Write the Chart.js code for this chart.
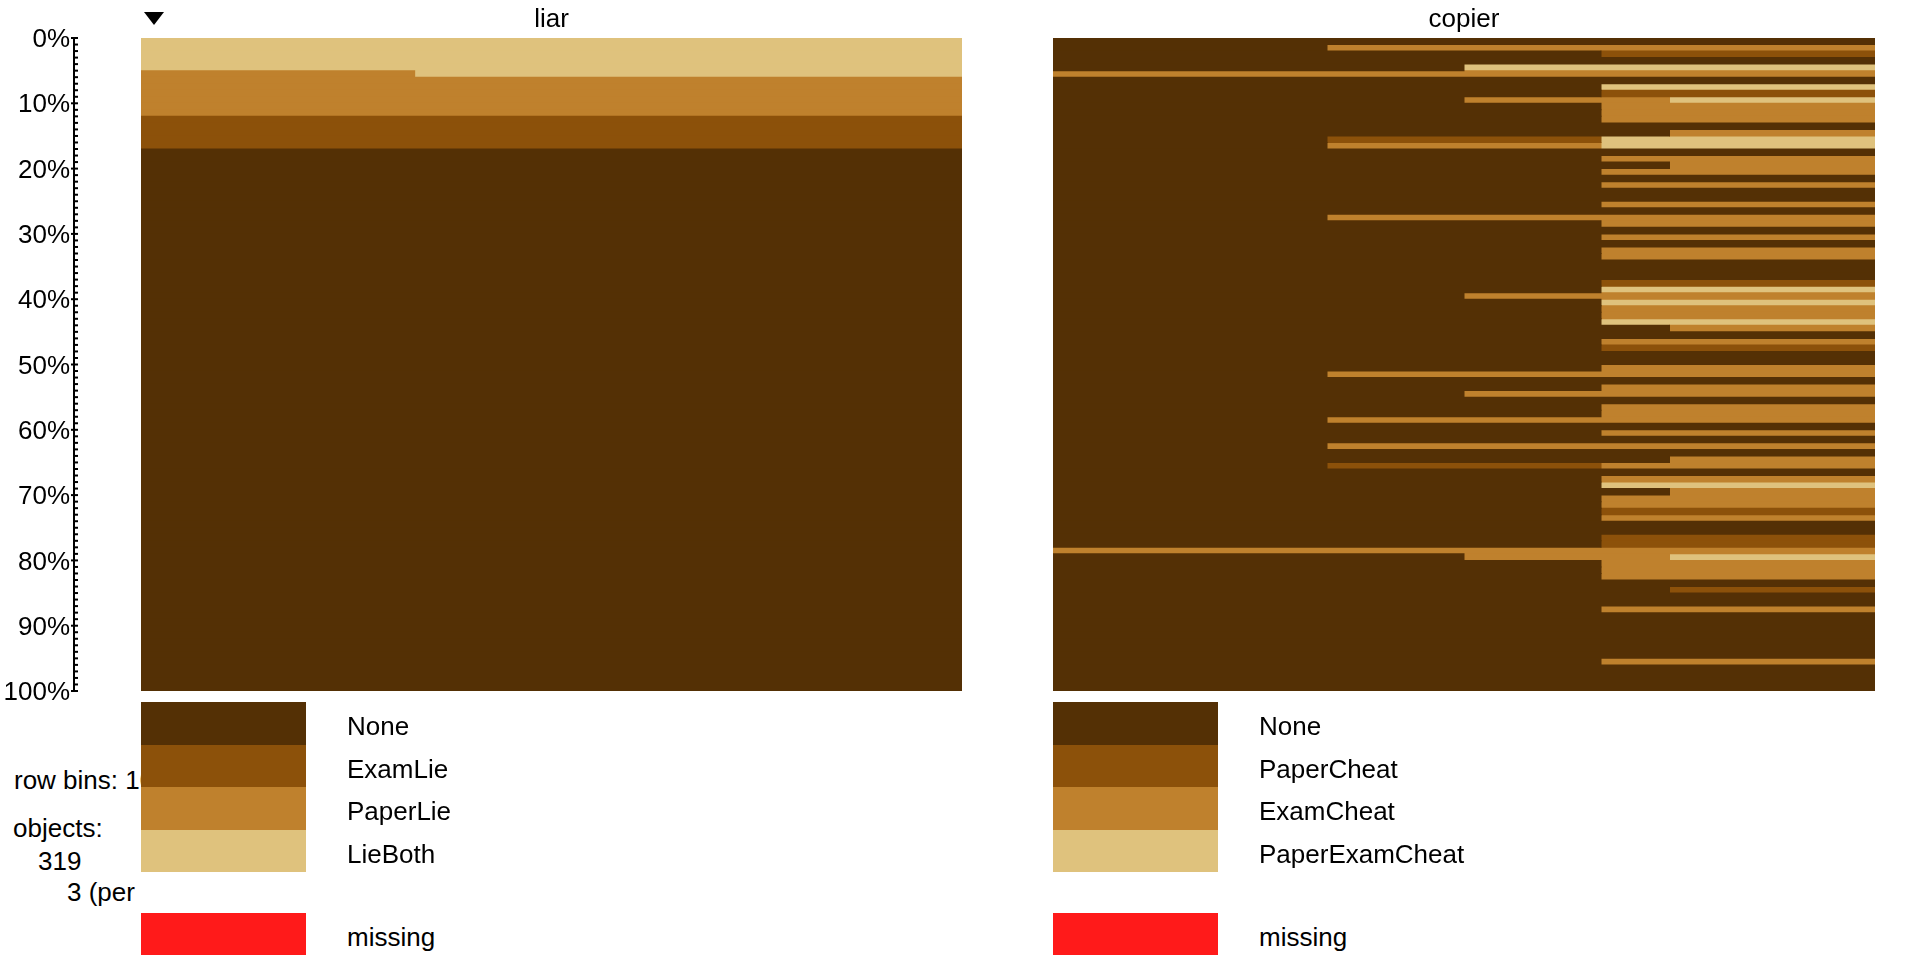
<!DOCTYPE html>
<html>
<head>
<meta charset="utf-8">
<script src="https://cdn.jsdelivr.net/npm/chart.js@4.4.1/dist/chart.umd.min.js"></script>
<style>
  html, body { margin: 0; padding: 0; background: #ffffff; }
  body { width: 1920px; height: 960px; overflow: hidden; position: relative;
         font-family: "Liberation Sans", Arial, sans-serif; color: #000; }
  .abs { position: absolute; }
  canvas { display: block; }
  .hdr { position: absolute; top: 5px; font-size: 26px; line-height: 26px; text-align: center; white-space: nowrap; }
  #infoText { position: absolute; left: 0; top: 740px; width: 141px; height: 200px; overflow: hidden; }
  .info { position: absolute; font-size: 26px; line-height: 26px; white-space: nowrap; }
  .lgbox { position: absolute; z-index: 2; }
  .lgtxt { position: absolute; font-size: 26px; white-space: nowrap; z-index: 2; }
  .tri { position: absolute; left: 144px; top: 12px; width: 0; height: 0;
         border-left: 10.5px solid transparent; border-right: 10.5px solid transparent; border-top: 13px solid #000; }
</style>
</head>
<body>
<div class="abs" style="left:0;top:0;width:100px;height:720px"><canvas id="axisChart" width="100" height="720"></canvas></div>
<div class="abs" style="left:130px;top:0;width:850px;height:720px"><canvas id="liarChart" width="850" height="720"></canvas></div>
<div class="abs" style="left:1040px;top:0;width:860px;height:720px"><canvas id="copierChart" width="860" height="720"></canvas></div>

<div class="tri"></div>
<div class="hdr" style="left:141px;width:821px">liar</div>
<div class="hdr" style="left:1053px;width:822px">copier</div>

<div id="infoText"></div>
<div id="legendLiar"></div>
<div id="legendCopier"></div>

<script>
// ---------------- data ----------------
const pctTicks = ['0%', '10%', '20%', '30%', '40%', '50%', '60%', '70%', '80%', '90%', '100%'];
const binLabels = Array.from({ length: 100 }, (_, i) => i + 1);   // row bins 1..100

const liarCats = ['None', 'ExamLie', 'PaperLie', 'LieBoth'];
const copierCats = ['None', 'PaperCheat', 'ExamCheat', 'PaperExamCheat'];
const palette = ['#543005', '#8C510A', '#BF812D', '#DFC27D'];
const missingColor = '#FF1A1A';

// liar: share of each category per row bin (bins 1..100, top to bottom)
const liarNone = [
  0,0,0,0,0,0,0,0,0,0,
  0,0,0,0,0,0,0,1,1,1,
  1,1,1,1,1,1,1,1,1,1,
  1,1,1,1,1,1,1,1,1,1,
  1,1,1,1,1,1,1,1,1,1,
  1,1,1,1,1,1,1,1,1,1,
  1,1,1,1,1,1,1,1,1,1,
  1,1,1,1,1,1,1,1,1,1,
  1,1,1,1,1,1,1,1,1,1,
  1,1,1,1,1,1,1,1,1,1
];
const liarExamLie = [
  0,0,0,0,0,0,0,0,0,0,
  0,0,1,1,1,1,1,0,0,0,
  0,0,0,0,0,0,0,0,0,0,
  0,0,0,0,0,0,0,0,0,0,
  0,0,0,0,0,0,0,0,0,0,
  0,0,0,0,0,0,0,0,0,0,
  0,0,0,0,0,0,0,0,0,0,
  0,0,0,0,0,0,0,0,0,0,
  0,0,0,0,0,0,0,0,0,0,
  0,0,0,0,0,0,0,0,0,0
];
const liarPaperLie = [
  0,0,0,0,0,1/3,1,1,1,1,
  1,1,0,0,0,0,0,0,0,0,
  0,0,0,0,0,0,0,0,0,0,
  0,0,0,0,0,0,0,0,0,0,
  0,0,0,0,0,0,0,0,0,0,
  0,0,0,0,0,0,0,0,0,0,
  0,0,0,0,0,0,0,0,0,0,
  0,0,0,0,0,0,0,0,0,0,
  0,0,0,0,0,0,0,0,0,0,
  0,0,0,0,0,0,0,0,0,0
];
const liarLieBoth = [
  1,1,1,1,1,2/3,0,0,0,0,
  0,0,0,0,0,0,0,0,0,0,
  0,0,0,0,0,0,0,0,0,0,
  0,0,0,0,0,0,0,0,0,0,
  0,0,0,0,0,0,0,0,0,0,
  0,0,0,0,0,0,0,0,0,0,
  0,0,0,0,0,0,0,0,0,0,
  0,0,0,0,0,0,0,0,0,0,
  0,0,0,0,0,0,0,0,0,0,
  0,0,0,0,0,0,0,0,0,0
];

// copier: share of each category per row bin
const copierNone = [
  1,1/3,2/3,1,1/2,0,1,2/3,2/3,1/2,
  2/3,2/3,2/3,1,3/4,1/3,1/3,1,2/3,3/4,
  2/3,1,2/3,1,1,2/3,1,1/3,2/3,1,
  2/3,1,2/3,2/3,1,1,1,2/3,2/3,1/2,
  2/3,2/3,2/3,2/3,3/4,1,2/3,2/3,1,1,
  2/3,1/3,1,2/3,1/2,1,2/3,2/3,1/3,1,
  2/3,1,1/3,1,3/4,1/3,1,2/3,2/3,3/4,
  2/3,2/3,2/3,2/3,1,1,2/3,2/3,0,1/2,
  2/3,2/3,2/3,1,3/4,1,1,2/3,1,1,
  1,1,1,1,1,2/3,1,1,1,1
];
const copierPaperCheat = [
  0,0,1/3,0,0,0,0,0,1/3,0,
  0,0,0,0,0,1/3,0,0,0,0,
  0,0,0,0,0,0,0,0,0,0,
  0,0,0,0,0,0,0,1/3,0,0,
  0,0,0,0,0,0,0,1/3,0,0,
  0,0,0,0,0,0,0,0,0,0,
  0,0,0,0,0,1/3,0,0,0,0,
  0,0,1/3,0,0,0,1/3,1/3,0,0,
  0,0,0,0,1/4,0,0,0,0,0,
  0,0,0,0,0,0,0,0,0,0
];
const copierExamCheat = [
  0,2/3,0,0,0,1,0,0,0,1/4,
  1/3,1/3,1/3,0,1/4,0,1/3,0,1/3,1/4,
  1/3,0,1/3,0,0,1/3,0,2/3,1/3,0,
  1/3,0,1/3,1/3,0,0,0,0,0,1/2,
  0,1/3,1/3,0,1/4,0,1/3,0,0,0,
  1/3,2/3,0,1/3,1/2,0,1/3,1/3,2/3,0,
  1/3,0,2/3,0,1/4,1/3,0,1/3,0,1/4,
  1/3,1/3,0,1/3,0,0,0,0,1,1/4,
  1/3,1/3,1/3,0,0,0,0,1/3,0,0,
  0,0,0,0,0,1/3,0,0,0,0
];
const copierPaperExamCheat = [
  0,0,0,0,1/2,0,0,1/3,0,1/4,
  0,0,0,0,0,1/3,1/3,0,0,0,
  0,0,0,0,0,0,0,0,0,0,
  0,0,0,0,0,0,0,0,1/3,0,
  1/3,0,0,1/3,0,0,0,0,0,0,
  0,0,0,0,0,0,0,0,0,0,
  0,0,0,0,0,0,0,0,1/3,0,
  0,0,0,0,0,0,0,0,0,1/4,
  0,0,0,0,0,0,0,0,0,0,
  0,0,0,0,0,0,0,0,0,0
];

const infoLines = ['row bins: 100', 'objects:', '319', '3 (per bin)'];

// ---------------- charts ----------------
const FONT = '"Liberation Sans", Arial, sans-serif';

function makeStack(canvasId, cats, series, pad) {
  return new Chart(document.getElementById(canvasId), {
    type: 'bar',
    data: {
      labels: binLabels,
      datasets: cats.map((c, i) => ({
        label: c,
        data: series[i].map(v => (v === 0 ? null : v)),
        backgroundColor: palette[i],
        borderWidth: 0,
        inflateAmount: 0.5,
        categoryPercentage: 1,
        barPercentage: 1
      }))
    },
    options: {
      indexAxis: 'y',
      responsive: false,
      animation: false,
      layout: { padding: pad },
      plugins: { legend: { display: false }, tooltip: { enabled: false }, title: { display: false } },
      scales: {
        x: { stacked: true, min: 0, max: 1, display: false },
        y: { stacked: true, display: false }
      }
    }
  });
}

makeStack('liarChart', liarCats, [liarNone, liarExamLie, liarPaperLie, liarLieBoth],
  { left: 11, right: 18, top: 38, bottom: 29 });
makeStack('copierChart', copierCats, [copierNone, copierPaperCheat, copierExamCheat, copierPaperExamCheat],
  { left: 13, right: 25, top: 38, bottom: 29 });

// percentage axis with minor tick marks pointing to the right
const tickMarks = {
  id: 'tickMarks',
  afterDraw(chart) {
    const s = chart.scales.y;
    const ctx = chart.ctx;
    const x0 = s.right;
    ctx.save();
    ctx.strokeStyle = '#000';
    ctx.lineWidth = 2;
    for (let v = 0; v <= 100; v++) {
      const y = s.getPixelForValue(v);
      const major = v % 10 === 0;
      ctx.beginPath();
      ctx.moveTo(x0 - (major ? 3 : 0), y);
      ctx.lineTo(x0 + 4, y);
      ctx.stroke();
    }
    ctx.restore();
  }
};

new Chart(document.getElementById('axisChart'), {
  type: 'scatter',
  data: { datasets: [] },
  options: {
    responsive: false,
    animation: false,
    layout: { padding: { left: 0, right: 0, top: 38, bottom: 29 } },
    plugins: { legend: { display: false }, tooltip: { enabled: false } },
    scales: {
      x: { display: false, min: 0, max: 1 },
      y: {
        type: 'linear', position: 'left', reverse: true, min: 0, max: 100,
        afterFit(scale) { scale.width = 74; },
        ticks: {
          stepSize: 10, autoSkip: false, padding: 4, labelOffset: 2,
          color: '#000', font: { family: FONT, size: 26 },
          callback: (v) => pctTicks[Math.round(v / 10)]
        },
        grid: { drawOnChartArea: false, drawTicks: false },
        border: { display: true, color: '#000', width: 2 }
      }
    }
  },
  plugins: [tickMarks]
});

// ---------------- text + legends (HTML) ----------------
// positions relative to the clipped info box (top 740px)
const infoPos = [[14, 27], [13, 75], [38, 108], [67, 139]];
const infoDiv = document.getElementById('infoText');
infoLines.forEach((t, i) => {
  const d = document.createElement('div');
  d.className = 'info';
  d.style.left = infoPos[i][0] + 'px';
  d.style.top = infoPos[i][1] + 'px';
  d.textContent = t;
  infoDiv.appendChild(d);
});

function buildLegend(hostId, cats, boxLeft, textLeft) {
  const host = document.getElementById(hostId);
  const rows = cats.map((c, i) => [c, palette[i], 702 + 42.5 * i]).concat([['missing', missingColor, 912.5]]);
  rows.forEach(([label, color, top]) => {
    const b = document.createElement('div');
    b.className = 'lgbox';
    b.style.cssText = `left:${boxLeft}px;top:${top}px;width:165px;height:42.5px;background:${color}`;
    host.appendChild(b);
    const t = document.createElement('div');
    t.className = 'lgtxt';
    t.style.cssText = `left:${textLeft}px;top:${top + 3}px;height:42.5px;line-height:42.5px`;
    t.textContent = label;
    host.appendChild(t);
  });
}
buildLegend('legendLiar', liarCats, 141, 347);
buildLegend('legendCopier', copierCats, 1053, 1259);
</script>
</body>
</html>
